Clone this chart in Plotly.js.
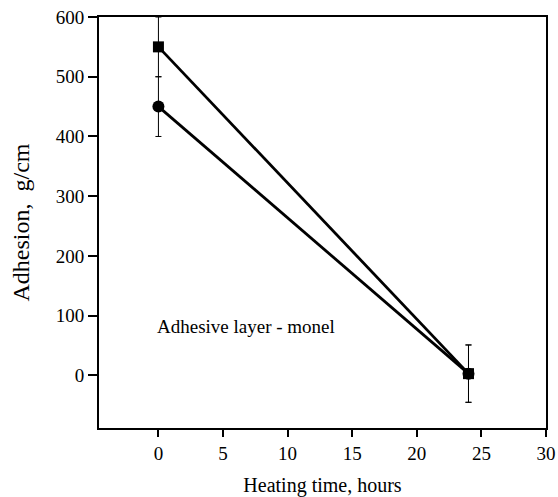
<!DOCTYPE html>
<html>
<head>
<meta charset="utf-8">
<script src="https://cdn.plot.ly/plotly-3.0.1.min.js"></script>
<style>html,body{margin:0;padding:0;background:#fff;}#chart{width:558px;height:497px;}</style>
</head>
<body>
<div id="chart"></div>
<script>
const hours = [0, 24];
const squareSeries = [550, 3];
const squareErr = [50, 48];
const circleSeries = [450, 3];
const circleErr = [50, 48];
const xTicks = [0, 5, 10, 15, 20, 25, 30];
const yTicks = [0, 100, 200, 300, 400, 500, 600];
const noteText = "Adhesive layer - monel";

const font = {family: "Liberation Serif, Times New Roman, serif", color: "#000"};

const traces = [
  {
    x: hours, y: circleSeries, type: "scatter", mode: "lines+markers",
    line: {color: "#000", width: 2.8},
    marker: {symbol: "circle", size: 12, color: "#000"},
    error_y: {type: "data", array: circleErr, visible: true, color: "#000", thickness: 1, width: 3},
    cliponaxis: true
  },
  {
    x: hours, y: squareSeries, type: "scatter", mode: "lines+markers",
    line: {color: "#000", width: 2.8},
    marker: {symbol: "square", size: 11, color: "#000"},
    error_y: {type: "data", array: squareErr, visible: true, color: "#000", thickness: 1, width: 3},
    cliponaxis: true
  }
];

const layout = {
  width: 558, height: 497,
  margin: {l: 99, r: 12, t: 17, b: 69},
  paper_bgcolor: "#fff", plot_bgcolor: "#fff",
  showlegend: false,
  font: Object.assign({size: 18}, font),
  xaxis: {
    range: [-4.6, 30], tickvals: xTicks, ticktext: xTicks.map(String),
    ticks: "outside", ticklen: 7, tickwidth: 2, tickcolor: "#000",
    showline: true, linecolor: "#000", linewidth: 2, mirror: true,
    showgrid: false, zeroline: false,
    tickfont: Object.assign({size: 19}, font),
    title: {text: "Heating time, hours", font: Object.assign({size: 20}, font), standoff: 15}
  },
  yaxis: {
    range: [-88, 600], tickvals: yTicks, ticktext: yTicks.map(String),
    ticks: "outside", ticklen: 9, tickwidth: 2, tickcolor: "#000",
    showline: true, linecolor: "#000", linewidth: 2, mirror: true,
    showgrid: false, zeroline: false,
    tickfont: Object.assign({size: 19}, font),
    title: {text: "Adhesion,  g/cm", font: Object.assign({size: 24}, font), standoff: 19}
  },
  annotations: [{
    x: -0.3, y: 82, xref: "x", yref: "y", xanchor: "left", yanchor: "middle",
    text: noteText, showarrow: false, font: Object.assign({size: 19}, font)
  }]
};

Plotly.newPlot("chart", traces, layout, {staticPlot: true, displayModeBar: false});
</script>
</body>
</html>
